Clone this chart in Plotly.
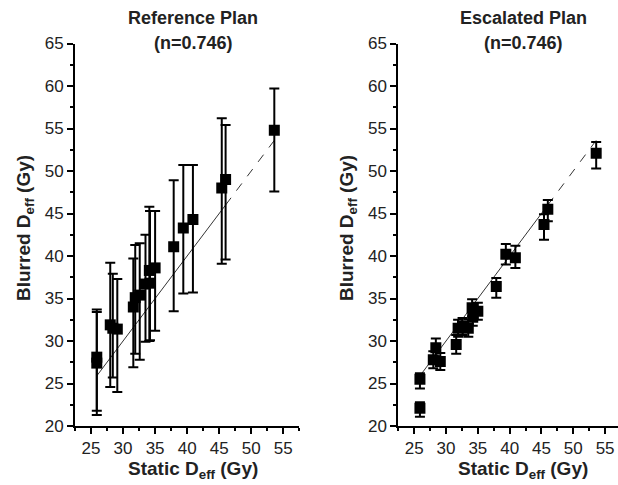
import plotly.graph_objects as go
from plotly.subplots import make_subplots

# ---- data ----
static_deff = [25.9, 25.9, 28.0, 28.4, 29.1, 31.6, 31.9, 32.6, 33.5, 34.1, 34.2, 35.0,
               37.9, 39.4, 40.9, 45.4, 46.0, 53.6]

ref_blurred = [27.4, 28.1, 31.9, 31.5, 31.4, 34.0, 35.1, 35.4, 36.7, 38.3, 36.8, 38.6,
               41.1, 43.3, 44.3, 48.0, 49.0, 54.8]
ref_upper = [33.4, 33.7, 39.2, 37.9, 37.3, 39.7, 41.3, 41.5, 42.5, 45.8, 45.3, 45.3,
             48.9, 50.7, 50.7, 56.2, 55.4, 59.7]
ref_lower = [21.3, 21.8, 24.6, 25.7, 24.0, 26.9, 28.5, 27.8, 29.9, 30.0, 30.1, 31.2,
             33.5, 35.6, 35.7, 39.1, 39.6, 47.6]

esc_blurred = [22.1, 25.5, 27.8, 29.2, 27.6, 29.6, 31.5, 31.7, 31.5, 33.9, 32.8, 33.5,
               36.4, 40.2, 39.8, 43.7, 45.5, 52.1]
esc_upper = [22.8, 26.2, 28.8, 30.3, 28.6, 30.7, 32.5, 32.7, 32.5, 34.9, 33.8, 34.5,
             37.4, 41.4, 41.2, 44.9, 46.6, 53.4]
esc_lower = [21.1, 24.4, 26.8, 28.2, 26.6, 28.5, 30.5, 30.7, 30.5, 32.9, 31.8, 32.5,
             35.1, 39.0, 38.6, 41.9, 44.1, 50.3]

panel_names = ["Reference Plan", "Escalated Plan"]
panel_n = ["(n=0.746)", "(n=0.746)"]
x_ticks = [25, 30, 35, 40, 45, 50, 55]
y_ticks = [20, 25, 30, 35, 40, 45, 50, 55, 60, 65]

FONT = "Liberation Sans, Arial, sans-serif"
W, H = 618, 485

fig = make_subplots(rows=1, cols=2)

panels = [
    (ref_blurred, ref_upper, ref_lower, 1),
    (esc_blurred, esc_upper, esc_lower, 2),
]

xs_sorted = sorted(static_deff)
line_lo, line_mid, line_hi = xs_sorted[0], xs_sorted[-2], xs_sorted[-1]

for yv, up, lo, col in panels:
    # identity line y = x over data range (solid, then dashed extension)
    fig.add_trace(go.Scatter(x=[line_lo, line_mid], y=[line_lo, line_mid], mode="lines",
                             line=dict(color="#333", width=1), showlegend=False,
                             hoverinfo="skip"), row=1, col=col)
    fig.add_trace(go.Scatter(x=[line_mid, line_hi], y=[line_mid, line_hi], mode="lines",
                             line=dict(color="#333", width=1, dash="dash"), showlegend=False,
                             hoverinfo="skip"), row=1, col=col)
    fig.add_trace(go.Scatter(
        x=static_deff, y=yv, mode="markers",
        marker=dict(symbol="square", size=11, color="black"),
        error_y=dict(type="data", symmetric=False,
                     array=[u - v for u, v in zip(up, yv)],
                     arrayminus=[v - l for v, l in zip(yv, lo)],
                     color="black", thickness=2, width=5),
        showlegend=False), row=1, col=col)

axis_common = dict(showline=True, linecolor="black", linewidth=2, ticks="outside",
                   ticklen=6, tickwidth=2, tickcolor="black", showgrid=False,
                   zeroline=False, mirror=False, ticklabeloverflow="allow",
                   automargin=False,
                   tickfont=dict(family=FONT, size=17, color="#222"))

ydom = [1 - 426 / H, 1 - 43.5 / H]
fig.update_xaxes(**axis_common, tickvals=x_ticks, ticklabelstandoff=0,
                 minor=dict(ticks="outside", ticklen=3, tickwidth=2, tickcolor="black",
                            dtick=2.5, tick0=22.5, showgrid=False))
fig.update_yaxes(**axis_common, tickvals=y_ticks, range=[20, 65], ticklabelstandoff=0,
                 minor=dict(ticks="outside", ticklen=3, tickwidth=2, tickcolor="black",
                            dtick=2.5, tick0=20, showgrid=False))
fig.update_layout(
    xaxis=dict(domain=[75 / W, 299.3 / W], range=[22.5, 57.5]),
    xaxis2=dict(domain=[398.3 / W, 1.0], range=[22.5, 57.03]),
    yaxis=dict(domain=ydom),
    yaxis2=dict(domain=ydom),
)

ann = []
for i, cx in enumerate([193, 523]):
    ann.append(dict(x=cx / W, y=1 - 18 / H, xref="paper", yref="paper",
                    text="<b>" + panel_names[i] + "</b>",
                    showarrow=False, font=dict(family=FONT, size=18, color="#222"),
                    xanchor="center", yanchor="middle"))
    ann.append(dict(x=cx / W, y=1 - 43 / H, xref="paper", yref="paper",
                    text="<b>" + panel_n[i] + "</b>",
                    showarrow=False, font=dict(family=FONT, size=18, color="#222"),
                    xanchor="center", yanchor="middle"))
    ann.append(dict(x=cx / W, y=1 - 470 / H, xref="paper", yref="paper",
                    text="<b>Static D<sub>eff</sub> (Gy)</b>", showarrow=False,
                    font=dict(family=FONT, size=19, color="#222"),
                    xanchor="center", yanchor="middle"))
for cx in [25, 348]:
    ann.append(dict(x=cx / W, y=1 - 228 / H, xref="paper", yref="paper",
                    text="<b>Blurred D<sub>eff</sub> (Gy)</b>", showarrow=False, textangle=-90,
                    font=dict(family=FONT, size=19, color="#222"),
                    xanchor="center", yanchor="middle"))

fig.update_layout(width=W, height=H, margin=dict(l=0, r=0, t=0, b=0, pad=0),
                  paper_bgcolor="white", plot_bgcolor="white", annotations=ann,
                  font=dict(family=FONT))

fig.write_html("out.html", config={"displayModeBar": False},
               post_script="document.body.style.margin='0';document.body.style.overflow='hidden';")
